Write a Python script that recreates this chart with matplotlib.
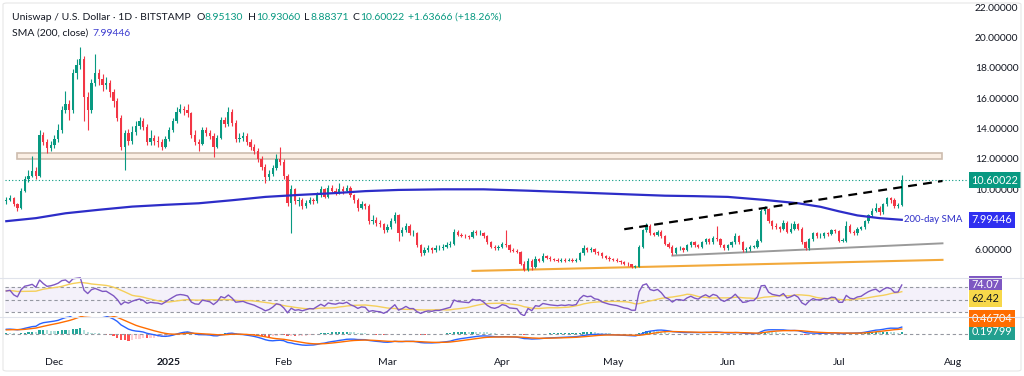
import matplotlib
matplotlib.use('Agg')
import matplotlib.pyplot as plt
import matplotlib.patches as mpatches
import numpy as np
import pandas as pd

plt.rcParams['font.family'] = ['Lato', 'DejaVu Sans']

# ---------------- data ----------------
start_date = '2024-11-18'

# daily closes, Nov 18 2024 .. Jul 18 2025
closes = [
    9.3, 9.4, 9.0, 8.8, 9.9, 10.7, 10.9, 11.2, 10.9, 13.6,
    13.1, 12.7, 12.9, 13.3, 13.9, 15.2, 15.6, 15.2, 17.7, 18.2,
    18.6, 16.1, 15.2, 17.0, 17.7, 17.3, 16.9, 17.0, 16.4, 15.8,
    14.7, 12.8, 13.7, 13.2, 13.8, 14.2, 14.5, 14.1, 13.1, 13.4,
    13.2, 13.1, 12.8, 13.3, 13.9, 14.5, 15.1, 15.3, 15.2, 15.0,
    13.6, 13.1, 13.0, 13.9, 13.7, 13.5, 12.8, 13.4, 14.6, 14.3,
    15.1, 14.4, 13.3, 13.4, 13.5, 13.1, 12.8, 12.5, 12.0, 11.5,
    10.8, 11.0, 11.4, 12.0, 11.8, 10.9, 9.1, 10.0, 9.2, 9.3,
    8.9, 9.1, 9.3, 9.2, 9.6, 10.0, 9.5, 10.1, 9.9, 9.8,
    10.0, 9.9, 10.1, 9.6, 9.3, 8.8, 9.0, 8.9, 7.9, 8.0,
    7.8, 7.7, 7.3, 7.5, 7.9, 8.3, 7.1, 7.3, 7.6, 7.1,
    7.1, 6.3, 5.8, 6.0, 6.1, 6.0, 6.1, 6.1, 6.2, 6.3,
    6.4, 7.2, 7.0, 6.95, 6.9, 6.85, 7.2, 7.1, 7.15, 6.9,
    6.5, 6.2, 6.1, 6.2, 6.4, 6.3, 6.0, 5.95, 5.9, 5.1,
    4.7, 5.3, 4.9, 5.4, 5.3, 5.6, 5.5, 5.4, 5.35, 5.3,
    5.35, 5.3, 5.35, 5.3, 5.35, 5.8, 6.1, 6.0, 6.05, 5.85,
    5.8, 5.6, 5.5, 5.4, 5.35, 5.3, 5.2, 5.1, 5.05, 4.9,
    4.9, 6.2, 7.3, 7.6, 7.1, 7.0, 7.2, 6.9, 6.4, 6.2,
    5.8, 6.1, 6.1, 6.0, 6.3, 6.5, 6.3, 6.2, 6.5, 6.7,
    6.5, 6.8, 6.7, 6.3, 6.1, 6.3, 6.5, 6.9, 6.5, 6.0,
    6.05, 6.2, 6.2, 6.6, 8.6, 8.7, 7.9, 7.6, 7.5, 7.4,
    7.8, 7.2, 7.4, 7.7, 7.4, 6.5, 6.1, 6.7, 7.1, 6.9,
    6.9, 7.1, 7.05, 7.3, 7.25, 6.6, 6.6, 7.6, 7.2, 7.1,
    7.4, 7.5, 7.9, 8.3, 8.6, 8.8, 8.5, 9.0, 9.4, 9.3,
    8.9, 8.9513, 10.60022,
]
highs = [
    9.5, 9.6, 9.5, 9.1, 10.1, 10.9, 11.3, 12.2, 11.5, 13.9,
    13.8, 13.3, 13.2, 13.6, 14.3, 15.5, 16.5, 15.9, 17.9, 18.6,
    19.4, 18.8, 16.4, 17.3, 18.9, 17.9, 17.6, 17.4, 17.2, 16.6,
    16.0, 14.9, 13.9, 14.0, 14.2, 14.5, 14.8, 14.7, 14.3, 13.9,
    13.6, 13.5, 13.3, 13.5, 14.1, 14.7, 15.4, 15.6, 15.5, 15.6,
    15.1, 13.9, 13.3, 14.1, 14.1, 13.9, 13.7, 13.6, 14.8, 14.8,
    15.4, 15.3, 14.6, 13.7, 13.8, 13.7, 13.3, 13.0, 12.7, 12.2,
    11.7, 11.3, 11.6, 12.3, 12.8, 12.0, 11.0, 10.3, 10.1, 9.5,
    9.4, 9.3, 9.5, 9.4, 9.8, 10.2, 10.1, 10.3, 10.3, 10.1,
    10.4, 10.2, 10.3, 10.2, 9.7, 9.4, 9.2, 9.1, 9.0, 8.3,
    8.2, 8.0, 7.8, 7.7, 8.1, 8.5, 8.4, 7.5, 7.8, 7.7,
    7.3, 7.2, 6.4, 6.2, 6.3, 6.2, 6.3, 6.3, 6.4, 6.5,
    6.6, 7.4, 7.3, 7.1, 7.05, 7.0, 7.3, 7.35, 7.3, 7.2,
    7.0, 6.6, 6.3, 6.3, 6.5, 7.3, 6.4, 6.1, 6.05, 5.95,
    5.3, 5.5, 5.4, 5.6, 5.5, 5.8, 5.7, 5.6, 5.5, 5.45,
    5.45, 5.45, 5.45, 5.45, 5.5, 5.9, 6.3, 6.2, 6.2, 6.1,
    5.95, 5.85, 5.7, 5.6, 5.5, 5.45, 5.35, 5.25, 5.2, 5.1,
    5.0, 6.3, 7.4, 7.8, 7.7, 7.2, 7.3, 7.3, 7.0, 6.5,
    6.3, 6.2, 6.25, 6.2, 6.4, 6.6, 6.6, 6.4, 6.6, 6.8,
    6.8, 6.9, 7.6, 6.8, 6.4, 6.4, 6.6, 7.1, 7.0, 6.6,
    6.2, 6.3, 6.35, 6.7, 8.7, 8.9, 8.8, 8.0, 7.8, 7.6,
    8.0, 7.9, 7.8, 7.9, 7.8, 7.5, 6.6, 6.8, 7.2, 7.2,
    7.1, 7.2, 7.2, 7.4, 7.4, 7.3, 6.8, 7.9, 7.7, 7.3,
    7.5, 7.6, 8.0, 8.4, 8.8, 9.1, 8.9, 9.1, 9.5, 9.5,
    9.4, 9.1, 10.9306,
]
lows = [
    9.0, 9.2, 8.9, 8.6, 8.7, 9.8, 10.5, 10.8, 10.7, 10.8,
    12.9, 12.4, 12.5, 12.7, 13.1, 13.7, 15.0, 14.6, 15.0, 17.3,
    17.9, 14.5, 13.9, 15.0, 16.8, 16.9, 16.5, 16.6, 16.1, 15.4,
    14.5, 12.6, 11.3, 12.9, 13.0, 13.6, 14.0, 13.9, 12.9, 12.9,
    12.9, 12.8, 12.6, 12.7, 13.2, 13.8, 14.4, 15.0, 14.9, 14.8,
    13.4, 12.9, 12.5, 12.9, 13.5, 13.3, 12.1, 12.7, 13.3, 14.1,
    14.2, 14.2, 13.1, 13.1, 13.2, 12.9, 12.6, 12.3, 11.8, 11.3,
    10.4, 10.6, 10.9, 11.3, 11.6, 10.7, 8.9, 7.1, 9.0, 8.9,
    8.7, 8.8, 9.0, 9.0, 9.1, 9.5, 9.4, 9.4, 9.8, 9.6,
    9.7, 9.7, 9.8, 9.5, 9.1, 8.6, 8.7, 8.7, 7.7, 7.7,
    7.6, 7.5, 7.1, 7.2, 7.4, 7.8, 6.6, 6.9, 7.2, 7.0,
    6.9, 6.2, 5.6, 5.7, 5.9, 5.8, 5.9, 6.0, 6.0, 6.1,
    6.2, 6.3, 6.9, 6.85, 6.8, 6.75, 6.8, 7.0, 7.0, 6.8,
    6.4, 6.1, 6.0, 6.0, 6.1, 6.2, 5.9, 5.85, 5.8, 5.0,
    4.6, 4.6, 4.7, 4.8, 5.2, 5.2, 5.4, 5.3, 5.25, 5.2,
    5.2, 5.2, 5.25, 5.2, 5.2, 5.3, 5.7, 5.9, 5.9, 5.75,
    5.7, 5.5, 5.4, 5.3, 5.25, 5.2, 5.1, 5.0, 4.95, 4.8,
    4.8, 4.85, 6.1, 7.2, 7.0, 6.9, 6.9, 6.8, 6.3, 6.1,
    5.7, 5.75, 6.0, 5.9, 5.95, 6.2, 6.2, 6.1, 6.1, 6.4,
    6.4, 6.4, 6.6, 6.2, 6.0, 6.0, 6.2, 6.4, 6.4, 5.9,
    5.9, 5.95, 6.1, 6.1, 6.5, 8.4, 7.8, 7.4, 7.4, 7.2,
    7.3, 7.1, 7.1, 7.3, 7.3, 6.4, 6.0, 6.0, 6.6, 6.8,
    6.8, 6.8, 6.95, 7.0, 7.1, 6.5, 6.5, 6.5, 7.1, 7.0,
    7.0, 7.3, 7.4, 7.8, 8.2, 8.5, 8.3, 8.4, 8.9, 9.1,
    8.8, 8.8, 8.88371,
]
# closes before the visible window (Oct 9 .. Nov 17 2024), only used to warm up RSI / MACD
warmup_closes = [
    7.2, 7.1, 7.3, 7.4, 7.6, 7.7, 7.5, 7.6, 7.7, 7.9,
    8.0, 7.9, 7.6, 7.5, 7.2, 7.3, 7.0, 7.1, 7.2, 7.3,
    7.5, 7.4, 7.1, 7.0, 6.9, 6.8, 7.0, 8.2, 8.4, 8.6,
    8.5, 8.8, 9.3, 9.6, 9.1, 8.7, 8.4, 8.8, 9.0, 9.2,
]

# 200-day SMA read at a few days (day index from start_date)
sma_days = [0, 8, 16, 25, 34, 43, 52, 61, 70, 79, 88, 97, 106, 118, 129,
            141, 150, 160, 170, 178, 186, 195, 205, 214, 220, 225, 230, 236, 242]
sma_vals = [7.90, 8.10, 8.42, 8.65, 8.86, 8.98, 9.08, 9.28, 9.50, 9.63, 9.74, 9.88, 9.96, 10.0, 10.0,
            9.91, 9.83, 9.74, 9.65, 9.58, 9.55, 9.50, 9.30, 9.08, 8.85, 8.55, 8.28, 8.10, 7.99]

# drawn levels / trend lines (day index, price)
zone_days, zone_lo, zone_hi = (3, 253), 12.0, 12.4
resist_days, resist_px = [167, 253], [7.37, 10.55]
gray_days, gray_px = [180, 253], [5.63, 6.44]
orange_days, orange_px = [126, 253], [4.62, 5.35]

month_starts = ['2024-12-01', '2025-01-01', '2025-02-01', '2025-03-01', '2025-04-01',
                '2025-05-01', '2025-06-01', '2025-07-01', '2025-08-01']
month_labels = ['Dec', '2025', 'Feb', 'Mar', 'Apr', 'May', 'Jun', 'Jul', 'Aug']
price_ticks = [6, 10, 12, 14, 16, 18, 20, 22]   # 8.00000 sits under the SMA value tag

# ---------------- indicators ----------------
n = len(closes)
opens = [warmup_closes[-1]] + closes[:-1]
allc = pd.Series(warmup_closes + closes)
delta = allc.diff()
gain = delta.clip(lower=0).ewm(alpha=1 / 14, adjust=False).mean()
loss = (-delta.clip(upper=0)).ewm(alpha=1 / 14, adjust=False).mean()
rsi_all = 100 - 100 / (1 + gain / loss)
rsi_ma_all = rsi_all.rolling(14).mean()
macd_all = allc.ewm(span=12, adjust=False).mean() - allc.ewm(span=26, adjust=False).mean()
sig_all = macd_all.ewm(span=9, adjust=False).mean()
rsi = rsi_all.values[-n:]
rsi_ma = rsi_ma_all.values[-n:]
macd = macd_all.values[-n:]
sig = sig_all.values[-n:]
hist = macd - sig

# ---------------- figure ----------------
W, H = 1024, 376
fig = plt.figure(figsize=(W / 100, H / 100), dpi=100)
fig.patch.set_facecolor('white')


def rect(l, t, r, b):
    return [l / W, 1 - b / H, (r - l) / W, (b - t) / H]


GREEN, RED = '#089981', '#F23645'
SMA_C = '#2d2dc8'
TXT = '#131722'
XL = (-0.35, 259.9)

ax = fig.add_axes(rect(5, 0, 968, 277))
ax_r = fig.add_axes(rect(5, 277, 968, 316))
ax_m = fig.add_axes(rect(5, 316, 968, 348))
for a in (ax, ax_r, ax_m):
    a.set_xlim(*XL)
    for s in a.spines.values():
        s.set_visible(False)
    a.tick_params(length=0)
    a.set_xticks([])

# price pane
ax.set_ylim(4.22, 22.48)
x = np.arange(n)
o = np.array(opens)
c = np.array(closes)
cols = [GREEN if cc >= oo else RED for oo, cc in zip(o, c)]
ax.vlines(x, lows, highs, colors=cols, lw=0.8, zorder=3)
body_lo = np.minimum(o, c)
body_h = np.maximum(np.abs(c - o), 0.04)
ax.bar(x, body_h, bottom=body_lo, width=0.62, color=cols, lw=0, zorder=4)

ax.add_patch(mpatches.Rectangle((zone_days[0], zone_lo), zone_days[1] - zone_days[0], zone_hi - zone_lo,
                                facecolor='#fbefe4', edgecolor='#cdbcae', lw=1.2, zorder=2))
ax.plot(sma_days, sma_vals, color=SMA_C, lw=1.6, zorder=5)
ax.plot(resist_days, resist_px, color='black', lw=1.6, dashes=(4, 2.8), zorder=5)
ax.plot(gray_days, gray_px, color='#9a9a9a', lw=1.4, zorder=2)
ax.plot(orange_days, orange_px, color='#f2a93b', lw=1.5, zorder=2)
ax.axhline(closes[-1], color=GREEN, lw=0.8, ls=(0, (1, 2)), zorder=1)
ax.text(sma_days[-1] + 0.5, sma_vals[-1], '200-day SMA', color=SMA_C, fontsize=6.9,
        va='center', ha='left', zorder=6)

ax.yaxis.tick_right()
ax.set_yticks(price_ticks)
ax.set_yticklabels([f'{v:.5f}' for v in price_ticks])
ax.tick_params(axis='y', labelsize=7.4, labelcolor=TXT, pad=5)


def side_label(a, val, text, fc, tc='white', dy=0):
    a.annotate(text, xy=(1, val), xycoords=('axes fraction', 'data'), xytext=(2.5, dy),
               textcoords='offset points', ha='left', va='center', color=tc, fontsize=7.8,
               bbox=dict(boxstyle='square,pad=0.25', fc=fc, ec='none'), annotation_clip=False,
               zorder=10)


side_label(ax, 10.60022, '10.60022', GREEN)
side_label(ax, 7.99446, '7.99446', '#2f2ff0')

# RSI pane
ax_r.set_ylim(23.6, 86)
ax_r.axhspan(30, 70, color='#7E57C2', alpha=0.08, lw=0)
for lvl in (70, 50, 30):
    ax_r.axhline(lvl, color='#9598a1', lw=0.8, dashes=(3, 2.5))
ax_r.plot(x, rsi_ma, color='#f5cf5a', lw=1.0)
ax_r.plot(x, rsi, color='#7E57C2', lw=1.0)
ax_r.set_yticks([])
side_label(ax_r, 74.07, '74.07', '#7E57C2')
side_label(ax_r, 62.42, '62.42', '#f7d84a', tc=TXT, dy=-5)

# MACD pane
ax_m.set_ylim(-1.45, 1.8)
ax_m.axhline(0, color='#9598a1', lw=0.8, dashes=(3, 2.5))
hcols = []
for i, h in enumerate(hist):
    prev = hist[i - 1] if i else h
    if h >= 0:
        hcols.append('#26A69A' if h >= prev else '#B2DFDB')
    else:
        hcols.append('#FF5252' if h < prev else '#FFCDD2')
ax_m.bar(x, hist, width=0.6, color=hcols, lw=0)
ax_m.plot(x, macd, color='#2962FF', lw=1.0)
ax_m.plot(x, sig, color='#FF6D00', lw=1.0)
ax_m.set_yticks([])
side_label(ax_m, 0.19799, '0.19799', '#22a08f')
side_label(ax_m, 0.19799, '0.46704', '#FF6D00', dy=9.5)

# x axis (months)
d0 = pd.Timestamp(start_date)
mpos = [(pd.Timestamp(m) - d0).days for m in month_starts]
ax_m.set_xticks(mpos)
ax_m.set_xticklabels(month_labels)
ax_m.tick_params(axis='x', labelsize=7.5, labelcolor=TXT, pad=7)
for lab in ax_m.get_xticklabels():
    if lab.get_text() == '2025':
        lab.set_fontweight('bold')

# pane separators and frame
for yy in (277.5, 316.5):
    fig.add_artist(plt.Line2D([0, 1], [1 - yy / H, 1 - yy / H], color='#e0e3eb', lw=0.8))
fig.add_artist(mpatches.FancyBboxPatch((3 / W, 5 / H), 1018 / W, 368 / H,
                                       boxstyle='round,pad=0,rounding_size=0.004',
                                       transform=fig.transFigure, fill=False,
                                       ec='#e6e6e6', lw=0.8))


# legends
def text_row(a, x0, y0, parts, size):
    prev = None
    for s, col, gap in parts:
        if prev is None:
            prev = a.annotate(s, xy=(x0, y0), xycoords='figure pixels', color=col,
                              fontsize=size, ha='left', va='bottom', zorder=12)
        else:
            prev = a.annotate(s, xy=(1, 0), xycoords=prev, xytext=(gap, 0),
                              textcoords='offset points', color=col, fontsize=size,
                              ha='left', va='bottom', zorder=12)


TEAL = '#089981'
text_row(ax, 12, H - 22, [
    ('Uniswap / U.S. Dollar · 1D · BITSTAMP', TXT, 0),
    ('O', TXT, 4), ('8.95130', TEAL, 0.3),
    ('H', TXT, 3), ('10.93060', TEAL, 0.3),
    ('L', TXT, 3), ('8.88371', TEAL, 0.3),
    ('C', TXT, 3), ('10.60022', TEAL, 0.3),
    ('+1.63666 (+18.26%)', TEAL, 3),
], 7.5)
text_row(ax, 12, H - 38, [('SMA (200, close)', TXT, 0), ('7.99446', '#3d3dd0', 3)], 7.5)
text_row(ax, 12, H - 297, [('RSI (14, close)', TXT, 0), ('74.07', '#7E57C2', 3),
                           ('62.42', '#e8c24a', 3)], 7.3)
text_row(ax, 12, H - 331, [('MACD (12, 26, close)', TXT, 0), ('0.19799', '#22a08f', 3),
                           ('0.66503', '#2962FF', 3), ('0.46704', '#FF6D00', 3)], 7.3)

fig.savefig('out.png', dpi=100)
